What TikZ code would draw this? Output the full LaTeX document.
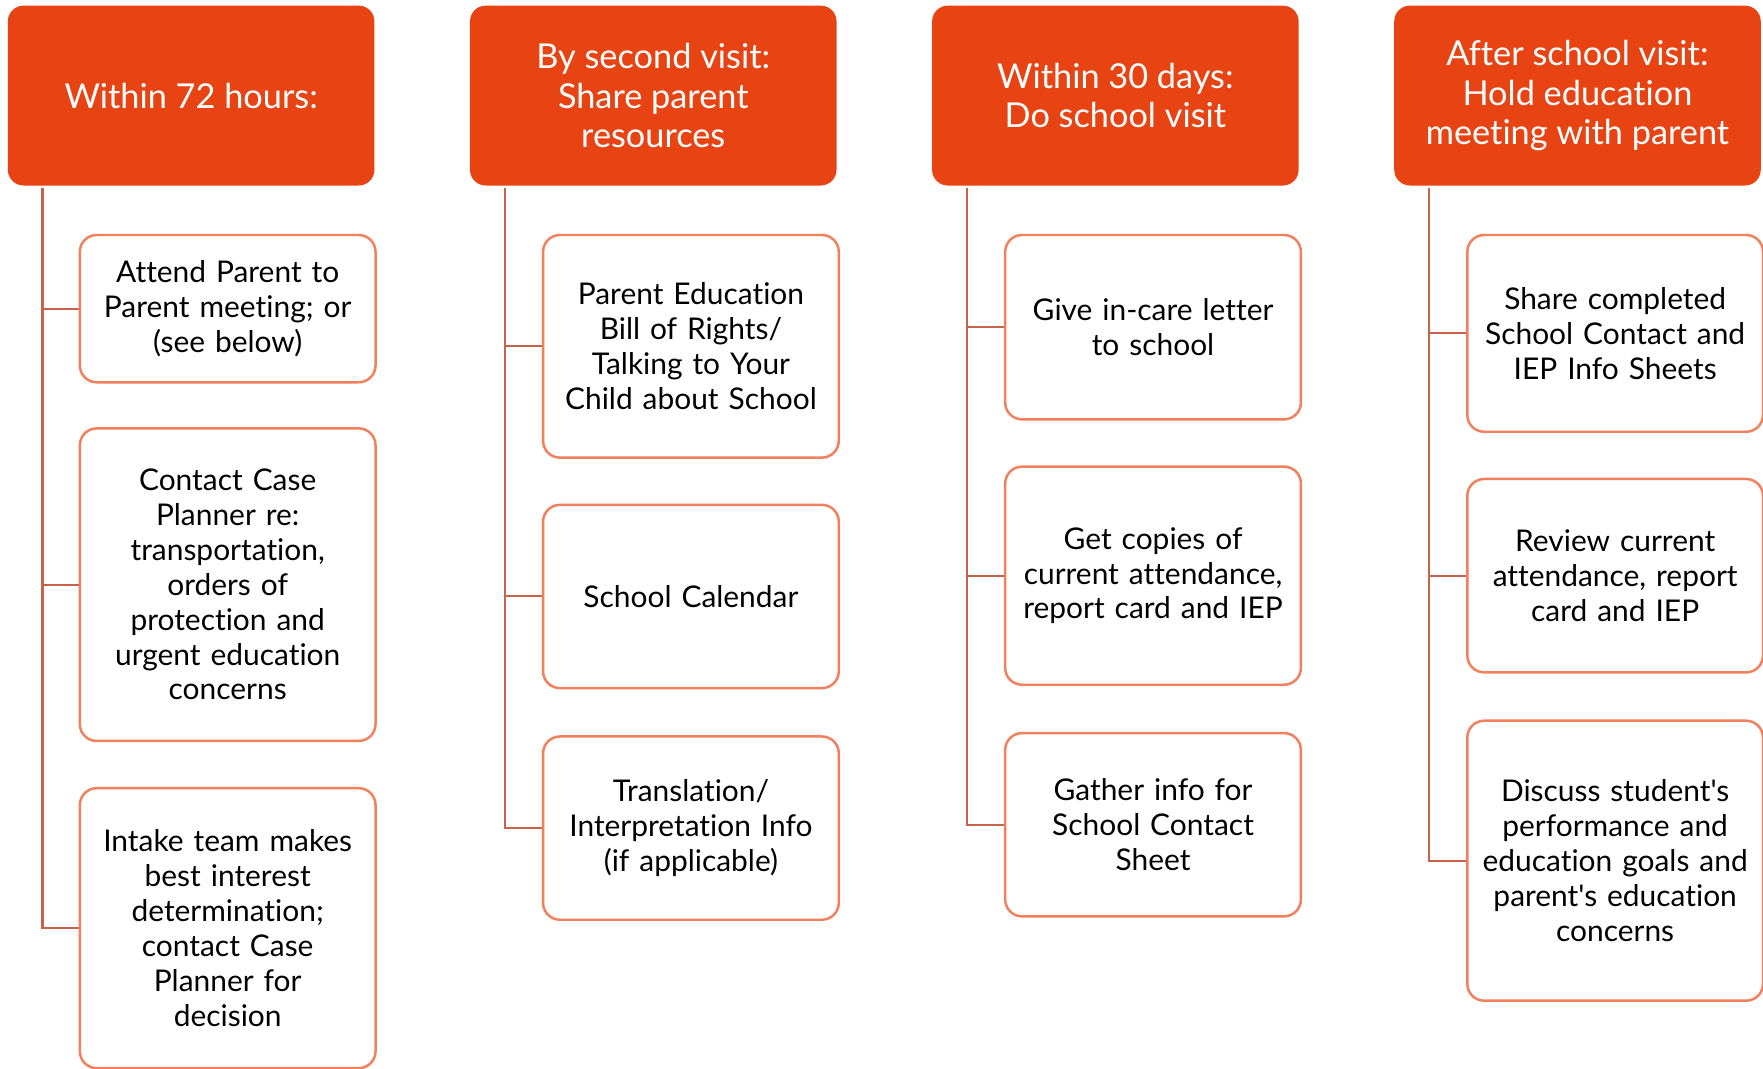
\documentclass[tikz,border=0pt]{standalone}
\usepackage{fontspec}
\setmainfont{Lato}[Ligatures={TeXOff,CommonOff}]
\usetikzlibrary{positioning,calc}
\definecolor{headfill}{HTML}{E84313}
\definecolor{itemline}{HTML}{F2805C}
\definecolor{linkcol}{HTML}{C6634A}

\begin{document}
\begin{tikzpicture}[x=1pt,y=-1pt,
  headbox/.style={fill=headfill, rounded corners=14pt, minimum width=326pt, minimum height=160pt,
    inner sep=0pt, text=white, align=center, font=\fontsize{30.5}{35}\selectfont},
  itembox/.style={draw=itemline, line width=2.2pt, fill=white, rounded corners=15pt, minimum width=263pt,
    inner sep=0pt, text width=258pt, align=center, font=\fontsize{26.6}{31}\selectfont},
  link/.style={draw=linkcol, line width=1.8pt}]
\useasboundingbox (0,0) rectangle (1568,950);

% Column headers
\foreach \n/\x/\t in {1/170/{Within 72 hours:},
    2/581/{By second visit:\\Share parent\\resources},
    3/992/{Within 30 days:\\Do school visit},
    4/1403/{After school visit:\\Hold education\\meeting with parent}}
  \node[headbox] (h\n) at (\x,85) {\t};

% Task boxes
\foreach \n/\x/\y/\h/\t in {
    a1/202.5/274.5/131/{Attend Parent to\\Parent meeting; or\\(see below)},
    a2/202.5/520/278/{Contact Case\\Planner re:\\transportation,\\orders of\\protection and\\urgent education\\concerns},
    a3/202.5/825.5/249/{Intake team makes\\best interest\\determination;\\contact Case\\Planner for\\decision},
    b1/614.5/308/198/{Parent Education\\Bill of Rights/\\Talking to Your\\Child about School},
    b2/614.5/530.5/163/{School Calendar},
    b3/614.5/736.5/163/{Translation/\\Interpretation Info\\(if applicable)},
    c1/1025.5/291/164/{Give in-care letter\\to school},
    c2/1025.5/512/194/{Get copies of\\current attendance,\\report card and IEP},
    c3/1025.5/733.5/163/{Gather info for\\School Contact\\Sheet},
    d1/1436.5/296.5/175/{Share completed\\School Contact and\\IEP Info Sheets},
    d2/1436.5/512/172/{Review current\\attendance, report\\card and IEP},
    d3/1436.5/765.5/249/{Discuss student's\\performance and\\education goals and\\parent's education\\concerns}}
  \node[itembox, minimum height=\h pt] (\n) at (\x,\y) {\t};

% Connectors
\foreach \c/\k in {1/a, 2/b, 3/c, 4/d} {
  \coordinate (t\c) at ($(h\c.south west)+(31,2)$);
  \draw[link] (t\c) |- (\k3.west);
  \foreach \i in {1,2}
    \draw[link] (\k\i.west -| t\c) -- (\k\i.west);
}
\end{tikzpicture}
\end{document}
